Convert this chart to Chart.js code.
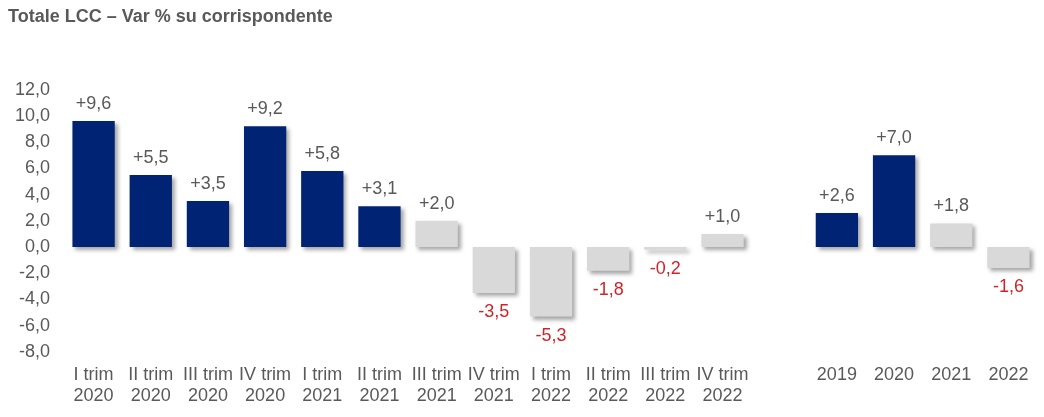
<!DOCTYPE html>
<html>
<head>
<meta charset="utf-8">
<script src="https://cdn.jsdelivr.net/npm/chart.js@4.4.0/dist/chart.umd.min.js"></script>
<style>
  html, body { margin: 0; padding: 0; background: #fff; }
  #wrap { width: 1044px; height: 417px; position: relative; }
</style>
</head>
<body>
<div id="wrap"><canvas id="lcc"></canvas></div>
<script>
// categorie: trimestri, uno spazio vuoto, poi gli anni
const categories = [
    ['I trim', '2020'], ['II trim', '2020'], ['III trim', '2020'], ['IV trim', '2020'],
    ['I trim', '2021'], ['II trim', '2021'], ['III trim', '2021'], ['IV trim', '2021'],
    ['I trim', '2022'], ['II trim', '2022'], ['III trim', '2022'], ['IV trim', '2022'],
    '',
    '2019', '2020', '2021', '2022'
];
const values = [9.6, 5.5, 3.5, 9.2, 5.8, 3.1, 2.0, -3.5, -5.3, -1.8, -0.2, 1.0, null, 2.6, 7.0, 1.8, -1.6];
// true = blu, false = grigio
const highlighted = [true, true, true, true, true, true, false, false, false, false, false, false, false, true, true, false, false];
const yMin = -8;
const yMax = 12;
const yStep = 2;

const NAVY = '#002473';
const GREY = '#d9d9d9';
const TEXT = '#595959';
const RED = '#d2232a';
const FONT = '"Liberation Sans", Arial, sans-serif';

const fmt = v => v.toFixed(1).replace('.', ',');

// ombra sotto le barre
const barShadow = {
    id: 'barShadow',
    beforeDatasetsDraw(chart) {
        const ctx = chart.ctx;
        ctx.save();
        ctx.shadowColor = 'rgba(0,0,0,0.35)';
        ctx.shadowBlur = 4;
        ctx.shadowOffsetX = 3;
        ctx.shadowOffsetY = 3;
    },
    afterDatasetsDraw(chart) {
        chart.ctx.restore();
    }
};

// etichette con il valore sopra/sotto ogni barra
const valueLabels = {
    id: 'valueLabels',
    afterDatasetsDraw(chart) {
        const ctx = chart.ctx;
        const meta = chart.getDatasetMeta(0);
        ctx.save();
        ctx.font = '18px ' + FONT;
        ctx.textAlign = 'center';
        ctx.textBaseline = 'middle';
        meta.data.forEach((bar, i) => {
            const v = values[i];
            if (v === null) return;
            if (v >= 0) {
                ctx.fillStyle = TEXT;
                ctx.fillText('+' + fmt(v), bar.x, bar.y - 17);
            } else {
                ctx.fillStyle = RED;
                ctx.fillText(fmt(v), bar.x, bar.y + 19);
            }
        });
        ctx.restore();
    }
};

new Chart(document.getElementById('lcc'), {
    type: 'bar',
    data: {
        labels: categories,
        datasets: [{
            data: values,
            backgroundColor: highlighted.map(h => h ? NAVY : GREY),
            borderWidth: 0,
            categoryPercentage: 1,
            barPercentage: 0.74
        }]
    },
    options: {
        responsive: true,
        maintainAspectRatio: false,
        animation: false,
        layout: {
            padding: { left: 8, right: 7, top: 0, bottom: 0 }
        },
        scales: {
            y: {
                min: yMin,
                max: yMax,
                afterFit: s => { s.width = 57; },
                ticks: {
                    stepSize: yStep,
                    color: TEXT,
                    padding: 15,
                    font: { family: FONT, size: 18 },
                    callback: v => fmt(v)
                },
                grid: { display: false, drawTicks: false },
                border: { display: false }
            },
            x: {
                afterFit: s => { s.height = 65; },
                ticks: {
                    color: TEXT,
                    padding: 12,
                    maxRotation: 0,
                    autoSkip: false,
                    font: { family: FONT, size: 18, lineHeight: 1.2 }
                },
                grid: { display: false, drawTicks: false },
                border: { display: false }
            }
        },
        plugins: {
            legend: { display: false },
            tooltip: { enabled: false },
            title: {
                display: true,
                text: 'Totale LCC – Var % su corrispondente',
                align: 'start',
                color: TEXT,
                font: { family: FONT, size: 18, weight: 'bold' },
                padding: { top: 6, bottom: 62 }
            }
        }
    },
    plugins: [barShadow, valueLabels]
});
</script>
</body>
</html>
